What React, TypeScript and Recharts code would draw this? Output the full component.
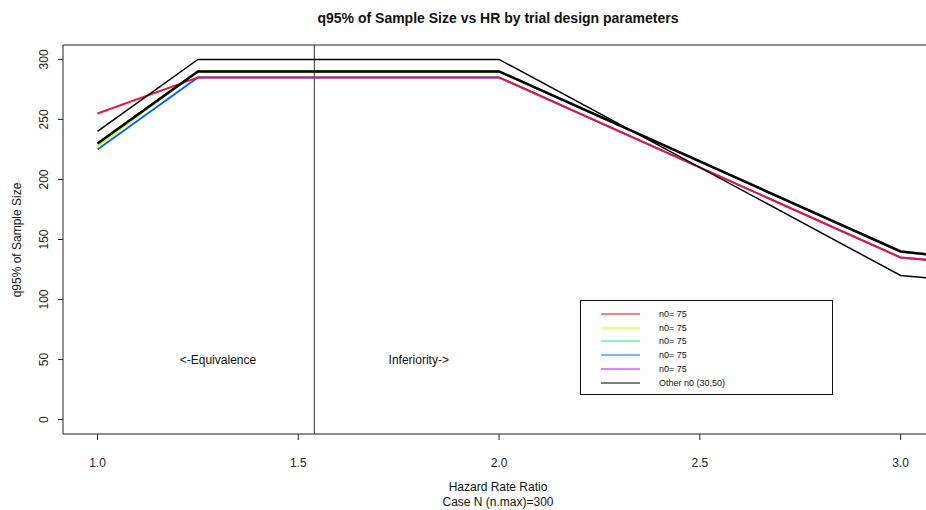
import React from 'react';
import {
  LineChart,
  Line,
  XAxis,
  YAxis,
  ReferenceLine,
  ReferenceArea,
  ReferenceDot,
  Customized,
} from 'recharts';

// Hazard rate ratios at which the q95% sample size was evaluated
const hazardRatio = [1.0, 1.25, 2.0, 3.0, 3.25];

// q95% of sample size per design (n0 = 75 variants, coloured)
const redN75 = [255, 285, 285, 135, 128];
const yellowN75 = [228, 290, 290, 140, 131];
const greenN75 = [230, 290, 290, 140, 131];
const blueN75 = [225, 285, 285, 135, 128];
const magentaN75 = [230, 290, 290, 140, 131];

// other n0 designs (30, 50), drawn in black
const otherN30 = [240, 300, 300, 120, 113];
const otherN50 = [230, 290, 290, 140, 131];

const xTicks = [1.0, 1.5, 2.0, 2.5, 3.0];
const yTicks = [0, 50, 100, 150, 200, 250, 300];
const cutoffHR = 1.54;

const legendLabels = ['n0= 75', 'n0= 75', 'n0= 75', 'n0= 75', 'n0= 75', 'Other n0 (30,50)'];
const legendColors = ['#FF0000', '#CCFF00', '#00FF66', '#0066FF', '#CC00FF', '#000000'];

const X_DOMAIN: [number, number] = [0.9141, 3.0806];
const Y_DOMAIN: [number, number] = [-12, 312];

const FONT = '"Liberation Sans", Arial, Helvetica, sans-serif';

const data = hazardRatio.map((hr, i) => ({
  hr,
  red: redN75[i],
  yellow: yellowN75[i],
  green: greenN75[i],
  blue: blueN75[i],
  magenta: magentaN75[i],
  n30: otherN30[i],
  n50: otherN50[i],
}));

const YTick = (props: any) => {
  const { y, payload } = props;
  return (
    <text
      x={44}
      y={y}
      transform={`rotate(-90 44 ${y})`}
      textAnchor="middle"
      dominantBaseline="central"
      fontSize={12}
      fontFamily={FONT}
      fill="#222"
    >
      {payload.value}
    </text>
  );
};

const XTick = (props: any) => {
  const { x, payload } = props;
  return (
    <text
      x={x}
      y={463}
      textAnchor="middle"
      dominantBaseline="central"
      fontSize={12}
      fontFamily={FONT}
      fill="#222"
    >
      {Number(payload.value).toFixed(1)}
    </text>
  );
};

const Titles = () => (
  <g fontFamily={FONT} fill="#111">
    <text x={498} y={18} textAnchor="middle" dominantBaseline="central" fontSize={14} fontWeight="bold">
      q95% of Sample Size vs HR by trial design parameters
    </text>
    <text x={498} y={487} textAnchor="middle" dominantBaseline="central" fontSize={12}>
      Hazard Rate Ratio
    </text>
    <text x={498} y={502} textAnchor="middle" dominantBaseline="central" fontSize={12}>
      Case N (n.max)=300
    </text>
    <text
      x={17}
      y={240}
      transform="rotate(-90 17 240)"
      textAnchor="middle"
      dominantBaseline="central"
      fontSize={12}
    >
      q95% of Sample Size
    </text>
  </g>
);

const LegendBox = () => (
  <div
    style={{
      position: 'absolute',
      left: 580,
      top: 300,
      width: 253,
      height: 95,
      border: '1px solid #111',
      background: '#fff',
      boxSizing: 'border-box',
      paddingTop: 6,
      fontFamily: FONT,
      fontSize: 9,
      color: '#111',
    }}
  >
    {legendLabels.map((label, i) => (
      <div key={i} style={{ display: 'flex', alignItems: 'center', height: 13.8 }}>
        <svg width={78} height={10} style={{ flex: 'none' }}>
          <line x1={20} x2={59} y1={5} y2={5} stroke={legendColors[i]} strokeWidth={1} />
        </svg>
        <span>{label}</span>
      </div>
    ))}
  </div>
);

export default function App() {
  return (
    <div style={{ position: 'absolute', left: 0, top: 0, width: 926, height: 510, overflow: 'hidden', background: '#fff' }}>
      <LineChart
        width={945}
        height={510}
        data={data}
        margin={{ top: 45, right: 12, bottom: 0, left: 0 }}
      >
        <XAxis
          dataKey="hr"
          type="number"
          domain={X_DOMAIN}
          allowDataOverflow
          ticks={xTicks}
          tick={<XTick />}
          tickSize={6}
          tickLine={{ stroke: '#222' }}
          axisLine={false}
          height={76}
          interval={0}
        />
        <YAxis
          type="number"
          domain={Y_DOMAIN}
          allowDataOverflow
          ticks={yTicks}
          tick={<YTick />}
          tickSize={5}
          tickLine={{ stroke: '#222' }}
          axisLine={false}
          width={63}
          interval={0}
        />
        <ReferenceArea
          x1={X_DOMAIN[0]}
          x2={X_DOMAIN[1]}
          y1={Y_DOMAIN[0]}
          y2={Y_DOMAIN[1]}
          fill="none"
          stroke="#222"
          strokeWidth={1}
          ifOverflow="visible"
        />
        <ReferenceLine x={cutoffHR} stroke="#333" strokeWidth={1} />
        <ReferenceDot
          x={1.3}
          y={50}
          r={0}
          fill="none"
          stroke="none"
          label={{ value: '<-Equivalence', position: 'center', fontSize: 12, fontFamily: FONT, fill: '#111' }}
        />
        <ReferenceDot
          x={1.8}
          y={50}
          r={0}
          fill="none"
          stroke="none"
          label={{ value: 'Inferiority->', position: 'center', fontSize: 12, fontFamily: FONT, fill: '#111' }}
        />
        <Line dataKey="blue" stroke="#0066FF" strokeWidth={2} dot={false} isAnimationActive={false} />
        <Line dataKey="magenta" stroke="#CC00FF" strokeWidth={2} dot={false} isAnimationActive={false} />
        <Line dataKey="green" stroke="#00FF66" strokeWidth={2} dot={false} isAnimationActive={false} />
        <Line dataKey="yellow" stroke="#CCFF00" strokeWidth={2} dot={false} isAnimationActive={false} />
        <Line dataKey="red" stroke="#F0143C" strokeWidth={2} dot={false} isAnimationActive={false} />
        <Line dataKey="n30" stroke="#000" strokeWidth={1.5} dot={false} isAnimationActive={false} />
        <Line dataKey="n50" stroke="#000" strokeWidth={2.5} dot={false} isAnimationActive={false} />
        <Customized component={<Titles />} />
      </LineChart>
      <LegendBox />
    </div>
  );
}
